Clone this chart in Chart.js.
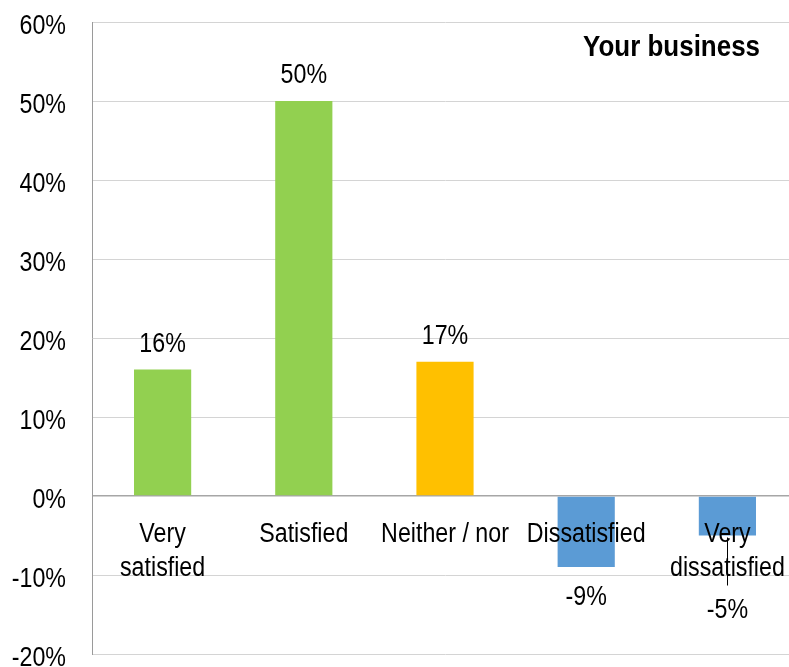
<!DOCTYPE html>
<html>
<head>
<meta charset="utf-8">
<script src="https://cdn.jsdelivr.net/npm/chart.js@4/dist/chart.umd.min.js"></script>
<style>
  html, body { margin: 0; padding: 0; background: #fff; overflow: hidden; }
  #wrap { width: 800px; height: 667px; position: relative; }
</style>
</head>
<body>
<div id="wrap"><canvas id="c"></canvas></div>
<script>
// Satisfaction survey, share of responses per answer
const categories = [["Very", "satisfied"], ["Satisfied"], ["Neither / nor"], ["Dissatisfied"], ["Very", "dissatisfied"]];
const shares = [16, 50, 17, -9, -5];
const barColors = ["#92D050", "#92D050", "#FFC000", "#5B9BD5", "#5B9BD5"];
const yTicks = [-20, -10, 0, 10, 20, 30, 40, 50, 60];
const panelTitle = "Your business";

const FONT = "'Liberation Sans', Arial, sans-serif";
const NARROW = 0.86;   // horizontal squeeze giving a narrow sans look

// fill text squeezed horizontally around its anchor point
function narrowText(ctx, text, x, y, align, sx) {
  ctx.save();
  ctx.translate(x, y);
  ctx.scale(sx, 1);
  ctx.textAlign = align;
  ctx.fillText(text, 0, 0);
  ctx.restore();
}

// Text layer: y tick labels, category names under the zero line,
// value labels outside each bar end, and the panel title.
const annotate = {
  id: "annotate",
  afterDatasetsDraw(chart) {
    const { ctx, scales } = chart;
    const x = scales.x, y = scales.y;
    const zeroY = y.getPixelForValue(0);
    ctx.save();
    ctx.fillStyle = "#000";
    ctx.textBaseline = "alphabetic";
    ctx.font = "27px " + FONT;

    // y tick labels
    y.ticks.forEach(t => {
      narrowText(ctx, t.value + "%", y.right - 26, y.getPixelForValue(t.value) + 12, "right", NARROW);
    });

    // category names
    categories.forEach((lines, i) => {
      const cx = x.getPixelForValue(i);
      lines.forEach((t, k) => narrowText(ctx, t, cx, zeroY + 46 + k * 34, "center", NARROW));
    });

    // value labels
    const meta = chart.getDatasetMeta(0);
    shares.forEach((v, i) => {
      const cx = meta.data[i].x;
      const endY = y.getPixelForValue(v);
      const txt = v + "%";
      if (v >= 0) {
        narrowText(ctx, txt, cx, endY - 18, "center", NARROW);
      } else {
        // the last label sits below the category name, tied to its bar by a leader line
        const pushed = i === 4;
        const base = pushed ? endY + 82 : endY + 38;
        if (pushed) {
          ctx.strokeStyle = "#000";
          ctx.lineWidth = 1;
          ctx.beginPath();
          ctx.moveTo(Math.round(cx) + 0.5, endY + 2);
          ctx.lineTo(Math.round(cx) + 0.5, base - 32);
          ctx.stroke();
        }
        narrowText(ctx, txt, cx, base, "center", NARROW);
      }
    });

    // panel title
    ctx.font = "bold 29px " + FONT;
    narrowText(ctx, panelTitle, 760, 56, "right", 0.895);
    ctx.restore();
  }
};

new Chart(document.getElementById("c"), {
  type: "bar",
  data: {
    labels: categories.map(l => l.join(" ")),
    datasets: [{
      data: shares,
      backgroundColor: barColors,
      borderWidth: 0,
      barPercentage: 0.405,
      categoryPercentage: 1
    }]
  },
  options: {
    responsive: true,
    maintainAspectRatio: false,
    animation: false,
    events: [],
    layout: { padding: { top: 22, right: 2, bottom: 13, left: 0 } },
    plugins: { legend: { display: false }, tooltip: { enabled: false } },
    scales: {
      x: {
        ticks: { display: false },
        grid: { display: false, drawTicks: false },
        border: { display: false }
      },
      y: {
        min: -20,
        max: 60,
        afterBuildTicks(axis) { axis.ticks = yTicks.map(v => ({ value: v })); },
        afterFit(axis) {
          axis.width = 92;
          axis.paddingTop = 0;
          axis.paddingBottom = 0;
        },
        ticks: { display: false },
        grid: {
          drawTicks: false,
          color: ctx => (ctx.tick && ctx.tick.value === 0) ? "#a6a6a6" : "#d4d4d4",
          lineWidth: ctx => (ctx.tick && ctx.tick.value === 0) ? 1.5 : 1
        },
        border: { display: true, color: "#9a9a9a", width: 1 }
      }
    }
  },
  plugins: [annotate]
});
</script>
</body>
</html>
